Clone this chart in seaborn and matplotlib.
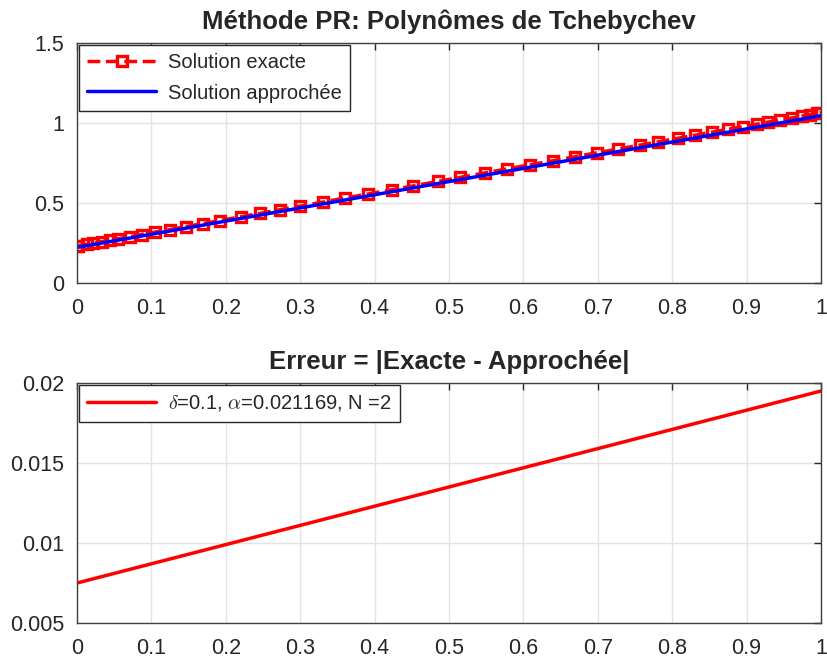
import numpy as np
import pandas as pd
import matplotlib
matplotlib.use("Agg")
import matplotlib.pyplot as plt
import seaborn as sns
from matplotlib.ticker import FuncFormatter, MultipleLocator

# ---- data ----
x_exact = [0.0, 0.002, 0.013, 0.022, 0.033, 0.044, 0.055, 0.071, 0.087, 0.105,
           0.125, 0.147, 0.169, 0.192, 0.221, 0.246, 0.273, 0.300, 0.331, 0.360,
           0.391, 0.423, 0.452, 0.485, 0.515, 0.548, 0.578, 0.609, 0.640, 0.669,
           0.699, 0.727, 0.757, 0.781, 0.808, 0.831, 0.853, 0.875, 0.895, 0.914,
           0.929, 0.945, 0.961, 0.974, 0.985, 0.995, 1.0]
y_exact = [0.230, 0.232, 0.241, 0.248, 0.258, 0.267, 0.276, 0.289, 0.303, 0.318,
           0.334, 0.353, 0.371, 0.390, 0.415, 0.435, 0.458, 0.481, 0.506, 0.531,
           0.556, 0.583, 0.607, 0.635, 0.660, 0.688, 0.713, 0.739, 0.764, 0.789,
           0.814, 0.837, 0.862, 0.882, 0.905, 0.924, 0.942, 0.961, 0.977, 0.993,
           1.006, 1.019, 1.032, 1.043, 1.052, 1.061, 1.065]
x_approx = [0.0, 0.25, 0.5, 0.75, 1.0]
y_approx = [0.2225, 0.428, 0.634, 0.840, 1.0455]
x_err = [0.0, 0.25, 0.5, 0.75, 1.0]
y_err = [0.0075, 0.0105, 0.0135, 0.0165, 0.0195]

title_top = "Méthode PR: Polynômes de Tchebychev"
title_bot = "Erreur = |Exacte - Approchée|"
lab_exact = "Solution exacte"
lab_approx = "Solution approchée"
lab_err = r"$\delta$=0.1, $\alpha$=0.021169, N =2"

sns.set_style("white")
plt.rcParams['font.family'] = ['Liberation Sans', 'DejaVu Sans']
plt.rcParams['mathtext.fontset'] = 'cm'

fig = plt.figure(figsize=(8.27, 6.62), dpi=100)
ax1 = fig.add_axes([77/827, 1-283/662, 744/827, 240/662])
ax2 = fig.add_axes([77/827, 1-623/662, 744/827, 240/662])

df_ex = pd.DataFrame({"x": x_exact, "y": y_exact})
df_ap = pd.DataFrame({"x": x_approx, "y": y_approx})
df_er = pd.DataFrame({"x": x_err, "y": y_err})

sns.lineplot(data=df_ex, x="x", y="y", ax=ax1, color="red", linestyle="--",
             linewidth=2.5, marker="s", markersize=7.5, markerfacecolor="none",
             markeredgecolor="red", markeredgewidth=2.4, dashes=(4, 3),
             estimator=None, sort=False, label=lab_exact)
sns.lineplot(data=df_ap, x="x", y="y", ax=ax1, color="blue", linewidth=2.5,
             estimator=None, sort=False, label=lab_approx)
sns.lineplot(data=df_er, x="x", y="y", ax=ax2, color="red", linewidth=2.5,
             estimator=None, sort=False, label=lab_err)

fmt = FuncFormatter(lambda v, p: ("%g" % round(v, 6)))
ax1.set_xlim(0, 1); ax1.set_ylim(0, 1.5)
ax1.yaxis.set_major_locator(MultipleLocator(0.5))
ax2.set_xlim(0, 1); ax2.set_ylim(0.005, 0.02)
ax2.yaxis.set_major_locator(MultipleLocator(0.005))
for ax, t in ((ax1, title_top), (ax2, title_bot)):
    ax.xaxis.set_major_locator(MultipleLocator(0.1))
    ax.xaxis.set_major_formatter(fmt)
    ax.yaxis.set_major_formatter(fmt)
    ax.set_xlabel(""); ax.set_ylabel("")
    ax.grid(True, color="#e3e3e3", linewidth=1)
    ax.set_axisbelow(True)
    for s in ax.spines.values():
        s.set_visible(True); s.set_color("#404040"); s.set_linewidth(1.0)
    ax.tick_params(direction="in", length=5, width=1, color="#262626",
                   labelcolor="#262626", labelsize=15.5, top=True, right=True)
    ax.tick_params(axis="x", pad=11)
    ax.tick_params(axis="y", pad=9)
    ax.set_title(t, fontsize=18.5, fontweight="bold", pad=10)
    leg = ax.legend(loc="upper left", fontsize=14.5, frameon=True, fancybox=False,
                    framealpha=1, edgecolor="#262626", handlelength=3.4,
                    borderpad=0.4, labelspacing=0.55, borderaxespad=0.12,
                    handletextpad=0.6)
    leg.get_frame().set_linewidth(1.0)

fig.savefig("out.png", dpi=100)
